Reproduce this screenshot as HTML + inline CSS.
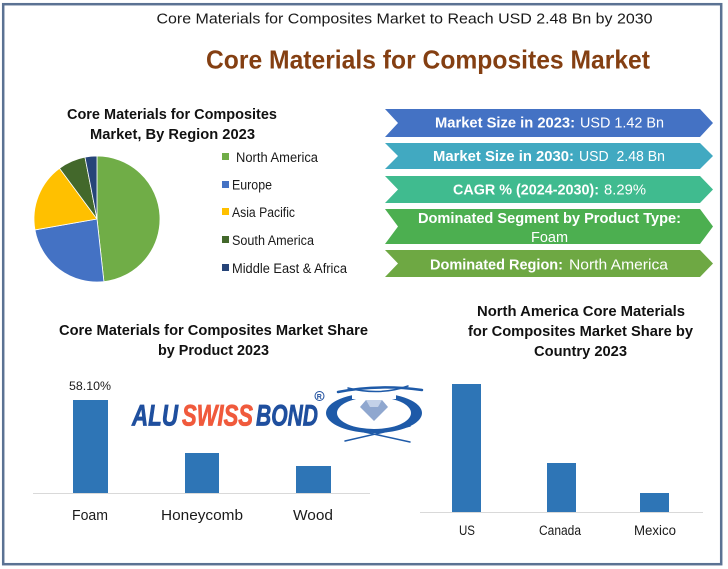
<!DOCTYPE html>
<html>
<head>
<meta charset="utf-8">
<style>
  html,body{margin:0;padding:0;background:#fff;}
  svg{display:block;}
  text{font-family:"Liberation Sans",Arial,sans-serif;}
</style>
</head>
<body>
<svg width="728" height="569" viewBox="0 0 728 569" xmlns="http://www.w3.org/2000/svg">
  <rect x="0" y="0" width="728" height="569" fill="#ffffff"/>
  <!-- frame -->
  <rect x="3.2" y="4.2" width="718" height="560" fill="none" stroke="#5b7293" stroke-width="2.5"/>

  <!-- header -->
  <text x="156.5" y="23.3" font-size="15" fill="#1a1a1a" textLength="496" lengthAdjust="spacingAndGlyphs">Core Materials for Composites Market to Reach USD 2.48 Bn by 2030</text>
  <text x="206" y="68.3" font-size="26" font-weight="bold" fill="#843f12" textLength="444" lengthAdjust="spacingAndGlyphs">Core Materials for Composites Market</text>

  <!-- pie title -->
  <text x="67" y="119" font-size="14.5" font-weight="bold" fill="#111" textLength="210" lengthAdjust="spacingAndGlyphs">Core Materials for Composites</text>
  <text x="90" y="139" font-size="14.5" font-weight="bold" fill="#111" textLength="165" lengthAdjust="spacingAndGlyphs">Market, By Region 2023</text>

  <!-- pie -->
  <g stroke="#ffffff" stroke-width="0.8">
    <path d="M97,219 L97,156 A63,63 0 0 1 103.91,281.62 Z" fill="#70ad47"/>
    <path d="M97,219 L103.91,281.62 A63,63 0 0 1 34.96,229.94 Z" fill="#4472c4"/>
    <path d="M97,219 L34.96,229.94 A63,63 0 0 1 59.53,168.35 Z" fill="#ffc000"/>
    <path d="M97,219 L59.53,168.35 A63,63 0 0 1 84.98,157.16 Z" fill="#43682b"/>
    <path d="M97,219 L84.98,157.16 A63,63 0 0 1 97,156 Z" fill="#264478"/>
  </g>

  <!-- legend -->
  <rect x="222" y="153" width="7" height="7" fill="#70ad47"/>
  <text x="236" y="162" font-size="13.5" fill="#1a1a1a" textLength="82" lengthAdjust="spacingAndGlyphs">North America</text>
  <rect x="222" y="181" width="7" height="7" fill="#4472c4"/>
  <text x="232" y="189.5" font-size="13.5" fill="#1a1a1a" textLength="40" lengthAdjust="spacingAndGlyphs">Europe</text>
  <rect x="222" y="208" width="7" height="7" fill="#ffc000"/>
  <text x="232" y="217" font-size="13.5" fill="#1a1a1a" textLength="63" lengthAdjust="spacingAndGlyphs">Asia Pacific</text>
  <rect x="222" y="236" width="7" height="7" fill="#43682b"/>
  <text x="232" y="245" font-size="13.5" fill="#1a1a1a" textLength="82" lengthAdjust="spacingAndGlyphs">South America</text>
  <rect x="222" y="264" width="7" height="7" fill="#264478"/>
  <text x="232" y="273" font-size="13.5" fill="#1a1a1a" textLength="115" lengthAdjust="spacingAndGlyphs">Middle East &amp; Africa</text>

  <!-- chevrons -->
  <polygon points="385,109 700,109 713,123 700,137 385,137 398,123" fill="#4472c4"/>
  <polygon points="385,143 700,143 713,156 700,169 385,169 398,156" fill="#41a9c1"/>
  <polygon points="385,176 700,176 713,189.5 700,203 385,203 398,189.5" fill="#40bb8f"/>
  <polygon points="385,209 700,209 713,226.5 700,244 385,244 398,226.5" fill="#4caf50"/>
  <polygon points="385,250 700,250 713,263.5 700,277 385,277 398,263.5" fill="#6ea843"/>

  <g fill="#ffffff" font-size="15">
    <text x="435" y="127.5" font-weight="bold" textLength="140" lengthAdjust="spacingAndGlyphs">Market Size in 2023:</text>
    <text x="580" y="127.5" textLength="84" lengthAdjust="spacingAndGlyphs">USD 1.42 Bn</text>
    <text x="433" y="161" font-weight="bold" textLength="141" lengthAdjust="spacingAndGlyphs">Market Size in 2030:</text>
    <text x="579" y="161" textLength="86" lengthAdjust="spacingAndGlyphs" xml:space="preserve">USD  2.48 Bn</text>
    <text x="453" y="194.5" font-weight="bold" textLength="146" lengthAdjust="spacingAndGlyphs">CAGR % (2024-2030):</text>
    <text x="604" y="194.5" textLength="42" lengthAdjust="spacingAndGlyphs">8.29%</text>
    <text x="418" y="223" font-weight="bold" textLength="263" lengthAdjust="spacingAndGlyphs">Dominated Segment by Product Type:</text>
    <text x="531" y="242" textLength="37" lengthAdjust="spacingAndGlyphs">Foam</text>
    <text x="430" y="269.5" font-weight="bold" textLength="133" lengthAdjust="spacingAndGlyphs">Dominated Region:</text>
    <text x="569" y="269.5" textLength="99" lengthAdjust="spacingAndGlyphs">North America</text>
  </g>

  <!-- product chart -->
  <text x="59" y="335" font-size="14.5" font-weight="bold" fill="#111" textLength="309" lengthAdjust="spacingAndGlyphs">Core Materials for Composites Market Share</text>
  <text x="158" y="355" font-size="14.5" font-weight="bold" fill="#111" textLength="111" lengthAdjust="spacingAndGlyphs">by Product 2023</text>
  <text x="69" y="390" font-size="12" fill="#1a1a1a" textLength="42" lengthAdjust="spacingAndGlyphs">58.10%</text>
  <rect x="73" y="400" width="35" height="93" fill="#2e75b6"/>
  <rect x="185" y="453" width="34" height="40" fill="#2e75b6"/>
  <rect x="296" y="466" width="35" height="27" fill="#2e75b6"/>
  <line x1="33" y1="493.5" x2="370" y2="493.5" stroke="#d9d9d9" stroke-width="1"/>
  <text x="72" y="520" font-size="15" fill="#1a1a1a" textLength="36" lengthAdjust="spacingAndGlyphs">Foam</text>
  <text x="161" y="520" font-size="15" fill="#1a1a1a" textLength="82" lengthAdjust="spacingAndGlyphs">Honeycomb</text>
  <text x="293" y="520" font-size="15" fill="#1a1a1a" textLength="40" lengthAdjust="spacingAndGlyphs">Wood</text>

  <!-- logo -->
  <g font-weight="bold" font-style="italic" font-size="30">
    <text x="132" y="425.5" fill="#1f4f9e" stroke="#1f4f9e" stroke-width="0.8" textLength="46" lengthAdjust="spacingAndGlyphs">ALU</text>
    <text x="182" y="425.5" fill="#f05a3c" stroke="#f05a3c" stroke-width="0.8" textLength="71" lengthAdjust="spacingAndGlyphs">SWISS</text>
    <text x="256" y="425.5" fill="#1f4f9e" stroke="#1f4f9e" stroke-width="0.8" textLength="62" lengthAdjust="spacingAndGlyphs">BOND</text>
  </g>
  <circle cx="319.5" cy="396" r="4.5" fill="none" stroke="#1f4f9e" stroke-width="1"/>
  <text x="316.8" y="399" font-size="7" font-weight="bold" fill="#1f4f9e">R</text>
  <!-- emblem -->
  <path fill-rule="evenodd" fill="#1e5aa8" d="M326,413 A48,20 0 1 0 422,413 A48,20 0 1 0 326,413 Z M337,413 A37,16 0 1 0 411,413 A37,16 0 1 0 337,413 Z"/>
  <rect x="352" y="390" width="44" height="9" fill="#ffffff"/>
  <g fill="none" stroke="#1e5aa8" stroke-linecap="round">
    <path d="M338,392 Q378,384 422,390" stroke-width="2.5"/>
    <path d="M348,388 Q380,396 408,386" stroke-width="1.5"/>
    <path d="M345,441 L410,426" stroke-width="1.5"/>
    <path d="M342,427 L410,442" stroke-width="1.5"/>
  </g>
  <polygon points="360,407 366,400 382,400 388,407 374,421" fill="#8fa7cf"/>
  <polygon points="366,400 382,400 378,407 370,407" fill="#c3d1e8"/>

  <!-- country chart -->
  <text x="477" y="316" font-size="14.5" font-weight="bold" fill="#111" textLength="208" lengthAdjust="spacingAndGlyphs">North America Core Materials</text>
  <text x="468" y="336" font-size="14.5" font-weight="bold" fill="#111" textLength="225" lengthAdjust="spacingAndGlyphs">for Composites Market Share by</text>
  <text x="534" y="356" font-size="14.5" font-weight="bold" fill="#111" textLength="93" lengthAdjust="spacingAndGlyphs">Country 2023</text>
  <rect x="452" y="384" width="29" height="128" fill="#2e75b6"/>
  <rect x="547" y="463" width="29" height="49" fill="#2e75b6"/>
  <rect x="640" y="493" width="29" height="19" fill="#2e75b6"/>
  <line x1="420" y1="512.5" x2="703" y2="512.5" stroke="#d9d9d9" stroke-width="1"/>
  <text x="459" y="535" font-size="13.5" fill="#1a1a1a" textLength="16" lengthAdjust="spacingAndGlyphs">US</text>
  <text x="539" y="535" font-size="13.5" fill="#1a1a1a" textLength="42" lengthAdjust="spacingAndGlyphs">Canada</text>
  <text x="634" y="535" font-size="13.5" fill="#1a1a1a" textLength="42" lengthAdjust="spacingAndGlyphs">Mexico</text>
</svg>
</body>
</html>
